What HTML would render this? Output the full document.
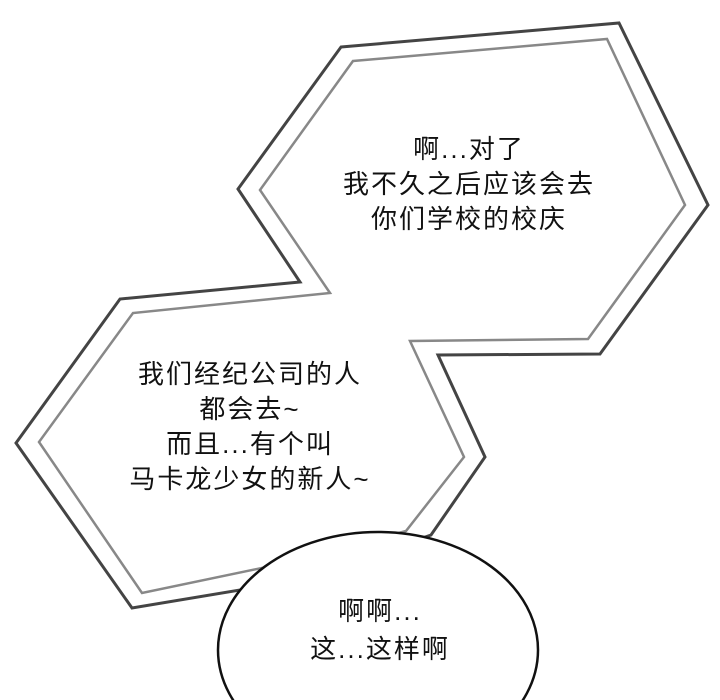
<!DOCTYPE html>
<html><head><meta charset="utf-8"><style>
html,body{margin:0;padding:0;background:#fff;}
body{width:720px;height:700px;position:relative;overflow:hidden;}
svg{position:absolute;left:0;top:0;}
.t{position:absolute;text-align:center;font-family:"Liberation Sans","Noto Sans CJK SC",sans-serif;font-size:26px;line-height:35px;color:#111;letter-spacing:2px;white-space:nowrap;}
</style></head><body>
<svg width="720" height="700" viewBox="0 0 720 700">
<polygon points="341,47 619,23 708,205 600,354 438,355 485,457 431,535 300,580 132,608 16,443 120,299 300,282 238,189" fill="#fff" stroke="#444" stroke-width="3" stroke-linejoin="miter"/>
<polygon points="353,61 607,39 685,205 588,339 410,341 464,457 406,531 300,560 142,593 39,442 133,313 330,293 260,190" fill="#fff" stroke="#888" stroke-width="2.5"/>
<ellipse cx="378" cy="650" rx="160" ry="118" fill="#fff" stroke="#111" stroke-width="2.5"/>
</svg>
<div class="t" style="left:269px;width:400px;top:132px;">啊...对了<br>我不久之后应该会去<br>你们学校的校庆</div>
<div class="t" style="left:50px;width:400px;top:357px;">我们经纪公司的人<br>都会去~<br>而且...有个叫<br>马卡龙少女的新人~</div>
<div class="t" style="left:230px;width:300px;top:592px;line-height:38px;">啊啊...<br>这...这样啊</div>
</body></html>
